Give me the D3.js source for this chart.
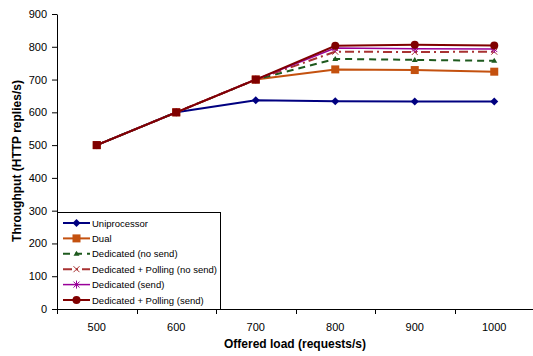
<!DOCTYPE html>
<html>
<head>
<meta charset="utf-8">
<script src="https://cdn.jsdelivr.net/npm/d3@7"></script>
<style>
  html, body { margin: 0; padding: 0; background: #fff; }
  svg { display: block; font-family: "Liberation Sans", Arial, sans-serif; }
</style>
</head>
<body>
<svg id="chart" width="533" height="356"></svg>
<script>
// Offered load categories (requests/s)
const loads = [500, 600, 700, 800, 900, 1000];
const yTicks = [0, 100, 200, 300, 400, 500, 600, 700, 800, 900];

// Throughput (HTTP replies/s) per configuration
const uniprocessor = [500, 600, 637, 634, 633, 633];
const dual = [500, 600, 700, 731, 729, 724];
const dedicatedNoSend = [500, 600, 700, 763, 760, 757];
const dedicatedPollingNoSend = [500, 600, 700, 785, 784, 785];
const dedicatedSend = [500, 600, 700, 796, 794, 793];
const dedicatedPollingSend = [500, 600, 700, 803, 806, 804];

const seriesNames = [
  "Uniprocessor",
  "Dual",
  "Dedicated (no send)",
  "Dedicated + Polling (no send)",
  "Dedicated (send)",
  "Dedicated + Polling (send)"
];
const seriesValues = [uniprocessor, dual, dedicatedNoSend, dedicatedPollingNoSend, dedicatedSend, dedicatedPollingSend];

const styles = [
  { color: "#000080", dash: null, marker: "diamond", width: 2 },
  { color: "#c4510f", dash: null, marker: "square", width: 2 },
  { color: "#1e5a1e", dash: "7,5", marker: "triangle", width: 2 },
  { color: "#a83232", dash: "9,4,2,4", marker: "cross", width: 2 },
  { color: "#990099", dash: null, marker: "asterisk", width: 1.5 },
  { color: "#800000", dash: null, marker: "circle", width: 2 }
];

const svg = d3.select("#chart");
const plotLeft = 57, plotRight = 534, plotTop = 14, plotBottom = 309;

const x = d3.scaleBand().domain(loads).range([plotLeft, plotRight]);
const y = d3.scaleLinear().domain([0, 900]).range([plotBottom, plotTop]);

// Y axis
const yAxis = svg.append("g").attr("transform", `translate(${plotLeft},0)`)
  .call(d3.axisLeft(y).tickValues(yTicks).tickSize(5).tickSizeOuter(0).tickPadding(5));
yAxis.select(".domain").attr("stroke", "#000");
yAxis.selectAll(".tick line").attr("stroke", "#000");
yAxis.selectAll("text").attr("font-size", 11).attr("fill", "#000")
  .attr("font-family", "Liberation Sans, Arial, sans-serif");

// X axis: ticks between categories
const xg = svg.append("g");
xg.append("line").attr("x1", plotLeft).attr("x2", 533).attr("y1", plotBottom + 0.5).attr("y2", plotBottom + 0.5)
  .attr("stroke", "#000");
const boundaries = loads.map(d => x(d)).concat([x(loads[loads.length - 1]) + x.bandwidth()]);
xg.selectAll("line.tk").data(boundaries).enter().append("line")
  .attr("class", "tk")
  .attr("x1", d => Math.round(d) + 0.5).attr("x2", d => Math.round(d) + 0.5)
  .attr("y1", plotBottom).attr("y2", plotBottom + 5).attr("stroke", "#000");
xg.selectAll("text").data(loads).enter().append("text")
  .attr("x", d => x(d) + x.bandwidth() / 2).attr("y", 331)
  .attr("text-anchor", "middle").attr("font-size", 11).text(d => d);

// Axis titles
svg.append("text").attr("x", 295).attr("y", 348).attr("text-anchor", "middle")
  .attr("font-size", 12).attr("font-weight", "bold").text("Offered load (requests/s)");
svg.append("text").attr("transform", "translate(21,161) rotate(-90)").attr("text-anchor", "middle")
  .attr("font-size", 12).attr("font-weight", "bold").text("Throughput (HTTP replies/s)");

// Marker drawing
function drawMarker(g, type, cx, cy, color) {
  switch (type) {
    case "diamond":
      g.append("path").attr("d", `M${cx},${cy - 4}L${cx + 4},${cy}L${cx},${cy + 4}L${cx - 4},${cy}Z`).attr("fill", color);
      break;
    case "square":
      g.append("rect").attr("x", cx - 4).attr("y", cy - 4).attr("width", 8).attr("height", 8).attr("fill", color);
      break;
    case "triangle":
      g.append("path").attr("d", `M${cx},${cy - 3}L${cx + 3},${cy + 2}L${cx - 3},${cy + 2}Z`).attr("fill", color);
      break;
    case "cross":
      g.append("path").attr("d", `M${cx - 3},${cy - 3}L${cx + 3},${cy + 3}M${cx + 3},${cy - 3}L${cx - 3},${cy + 3}`)
        .attr("stroke", color).attr("stroke-width", 1).attr("fill", "none");
      break;
    case "asterisk":
      g.append("path").attr("d", `M${cx - 3},${cy - 3}L${cx + 3},${cy + 3}M${cx + 3},${cy - 3}L${cx - 3},${cy + 3}M${cx},${cy - 4}L${cx},${cy + 4}`)
        .attr("stroke", color).attr("stroke-width", 1).attr("fill", "none");
      break;
    case "circle":
      g.append("circle").attr("cx", cx).attr("cy", cy).attr("r", 4).attr("fill", color);
      break;
  }
}

// Series lines and markers
const line = d3.line().x((d, i) => x(loads[i]) + x.bandwidth() / 2).y(d => y(d));
seriesValues.forEach((vals, s) => {
  const st = styles[s];
  const g = svg.append("g");
  g.append("path").datum(vals).attr("d", line).attr("fill", "none")
    .attr("stroke", st.color).attr("stroke-width", st.width)
    .attr("stroke-dasharray", st.dash);
  vals.forEach((v, i) => {
    // where every series meets, the marker of the last drawn series is a square
    const type = (s === seriesValues.length - 1 && v === dual[i]) ? "square" : st.marker;
    drawMarker(g, type, x(loads[i]) + x.bandwidth() / 2, y(v), st.color);
  });
});

// Legend
const lg = svg.append("g");
lg.append("rect").attr("x", 57.5).attr("y", 212.5).attr("width", 163).attr("height", 97)
  .attr("fill", "#fff").attr("stroke", "#000");
seriesNames.forEach((name, s) => {
  const st = styles[s];
  const ly = 223 + s * 15.4;
  lg.append("line").attr("x1", 63).attr("x2", 90).attr("y1", ly).attr("y2", ly)
    .attr("stroke", st.color).attr("stroke-width", st.width).attr("stroke-dasharray", st.dash);
  drawMarker(lg, st.marker, 76.5, ly, st.color);
  lg.append("text").attr("x", 92).attr("y", ly + 3.5).attr("font-size", 9.5).text(name);
});
</script>
</body>
</html>
